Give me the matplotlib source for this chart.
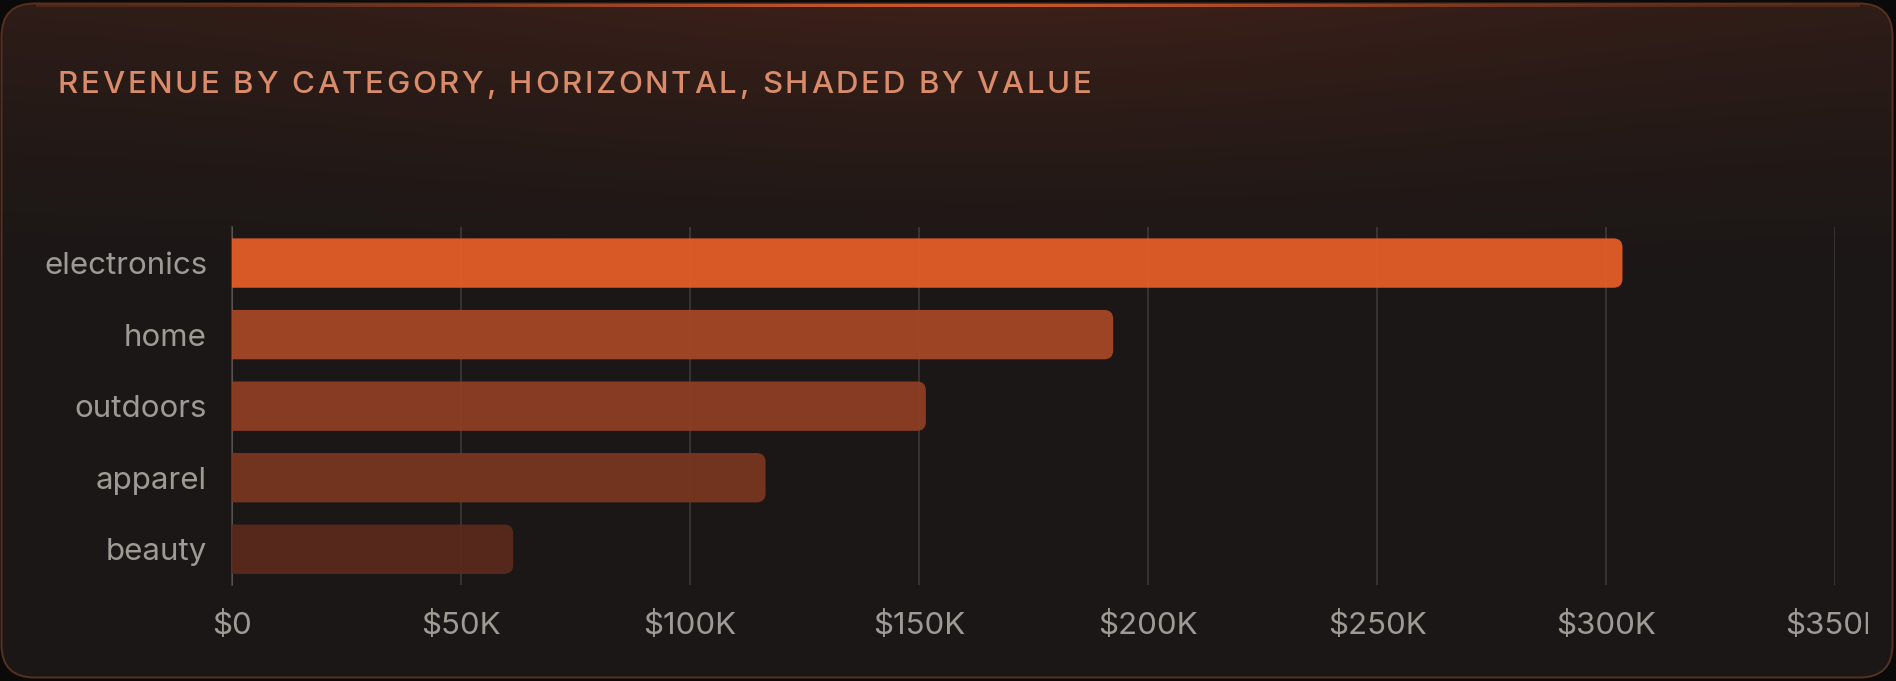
import numpy as np
import matplotlib
matplotlib.use("Agg")
import matplotlib.pyplot as plt
from matplotlib.path import Path
from matplotlib.patches import PathPatch, FancyBboxPatch
from matplotlib.transforms import Bbox, IdentityTransform
from matplotlib.font_manager import FontProperties
from matplotlib.colors import to_rgb

# ---------------- data ----------------
categories = ["electronics", "home", "outdoors", "apparel", "beauty"]
revenue = [303600, 192400, 151500, 116500, 61400]
bar_colors = ["#D95A26", "#9D4423", "#883C22", "#72341E", "#55291C"]
xticks = [0, 50000, 100000, 150000, 200000, 250000, 300000, 350000]
xtick_labels = ["$0", "$50K", "$100K", "$150K", "$200K", "$250K", "$300K", "$350K"]
title = "REVENUE BY CATEGORY, HORIZONTAL, SHADED BY VALUE"

# ---------------- style ----------------
W, H = 1896, 681
FONT = ["Inter", "DejaVu Sans"]
plt.rcParams["font.family"] = FONT
TICK_COLOR = "#9E9B95"
TITLE_COLOR = "#D98B6A"

fig = plt.figure(figsize=(W / 100, H / 100), dpi=100)
fig.patch.set_facecolor("#0b0a0a")

# background axes in pixel units
bg = fig.add_axes([0, 0, 1, 1])
bg.set_xlim(0, W)
bg.set_ylim(H, 0)
bg.axis("off")

card = FancyBboxPatch((1.5, 3.5), W - 5, H - 7, boxstyle="round,pad=0,rounding_size=33",
                      facecolor="none", edgecolor="#58301f", lw=1.4, zorder=3)
bg.add_patch(card)

# gradient fill for card
yy, xx = np.mgrid[0:H, 0:W].astype(float)
base = np.array([0x1a, 0x17, 0x16]) / 255.0
glow = np.array([0x3d, 0x20, 0x19]) / 255.0
horiz = 0.55 + 0.45 * np.exp(-((xx - 980) / 650.0) ** 2)
vert = np.clip(1 - yy / 330.0, 0, 1) ** 1.6
f = (horiz * vert)[..., None]
img = base + (glow - base) * f
im = bg.imshow(img, extent=(0, W, H, 0), zorder=1, interpolation="bilinear")
clip_card = FancyBboxPatch((1.5, 3.5), W - 5, H - 7, boxstyle="round,pad=0,rounding_size=33",
                           transform=bg.transData, facecolor="none", edgecolor="none")
bg.add_patch(clip_card)
im.set_clip_path(clip_card)

# top highlight on the border
hx = np.linspace(0, W, W)
alpha = np.clip(0.15 + 0.85 * np.exp(-((hx - 960) / 520.0) ** 2), 0, 1)
strip = np.zeros((1, W, 4))
strip[..., 0] = 0xC8 / 255
strip[..., 1] = 0x58 / 255
strip[..., 2] = 0x2C / 255
strip[..., 3] = alpha
bg.imshow(strip, extent=(36, W - 36, 7, 4), zorder=4, aspect="auto", interpolation="bilinear")
bg.set_xlim(0, W)
bg.set_ylim(H, 0)

# title with letter spacing
renderer = fig.canvas.get_renderer()
tprop = FontProperties(family=FONT, size=22.5, weight="medium")
target_w = 1033.0
full_w = renderer.get_text_width_height_descent(title, tprop, ismath=False)[0]
sp = (target_w - full_w) / (len(title) - 1)
x0 = 58
for i, ch in enumerate(title):
    pre = title[:i]
    w = renderer.get_text_width_height_descent(pre, tprop, ismath=False)[0] if pre else 0
    bg.text(x0 + w + i * sp, 93, ch, fontproperties=tprop, color=TITLE_COLOR,
            ha="left", va="baseline", zorder=5)

# ---------------- main chart ----------------
left, right, top, bottom = 232, 1835, 227.3, 585
ax = fig.add_axes([left / W, (H - bottom) / H, (right - left) / W, (bottom - top) / H])
ax.set_facecolor("none")
ypos = np.arange(len(categories))
bars = ax.barh(ypos, revenue, height=0.69, color=bar_colors, zorder=3)
ax.set_xlim(0, 350000)
ax.set_ylim(len(categories) - 0.5, -0.5)

# round right ends of bars (slightly translucent so grid shows faintly)
BAR_ALPHA = 0.94
bgc = np.array(to_rgb("#1a1716"))
r = 9.0
for rect, c in zip(bars, bar_colors):
    (px0, py0), (px1, py1) = ax.transData.transform(
        [(rect.get_x(), rect.get_y() + rect.get_height()), (rect.get_x() + rect.get_width(), rect.get_y())])
    ylo, yhi = min(py0, py1), max(py0, py1)
    verts = [(px0, ylo), (px1 - r, ylo), (px1, ylo), (px1, ylo + r), (px1, yhi - r),
             (px1, yhi), (px1 - r, yhi), (px0, yhi), (px0, ylo)]
    codes = [Path.MOVETO, Path.LINETO, Path.CURVE3, Path.CURVE3, Path.LINETO,
             Path.CURVE3, Path.CURVE3, Path.LINETO, Path.CLOSEPOLY]
    rect.set_visible(False)
    adj = np.clip((np.array(to_rgb(c)) - (1 - BAR_ALPHA) * bgc) / BAR_ALPHA, 0, 1)
    pp = PathPatch(Path(verts, codes), facecolor=adj, alpha=BAR_ALPHA, edgecolor="none",
                   transform=IdentityTransform(), zorder=3)
    ax.add_patch(pp)
ax.set_xlim(0, 350000)
ax.set_ylim(len(categories) - 0.5, -0.5)

ax.set_xticks(xticks)
ax.set_xticklabels(xtick_labels)
ax.set_yticks(ypos)
ax.set_yticklabels(categories)
ax.tick_params(axis="both", length=0, labelsize=22.5, labelcolor=TICK_COLOR)
ax.tick_params(axis="y", pad=18)
ax.tick_params(axis="x", pad=19)
ax.set_axisbelow(True)
ax.xaxis.grid(True, color="white", alpha=0.12, lw=1.5)
ax.yaxis.grid(False)
for s in ["top", "right", "bottom"]:
    ax.spines[s].set_visible(False)
ax.spines["left"].set_color((1, 1, 1, 0.16))
ax.spines["left"].set_linewidth(1.5)
ax.spines["left"].set_zorder(0.5)

clipbox = Bbox([[0, 0], [1868, H]])
for lab in ax.get_xticklabels():
    lab.set_clip_box(clipbox)
    lab.set_clip_on(True)

fig.savefig("out.png", dpi=100, facecolor=fig.get_facecolor())
